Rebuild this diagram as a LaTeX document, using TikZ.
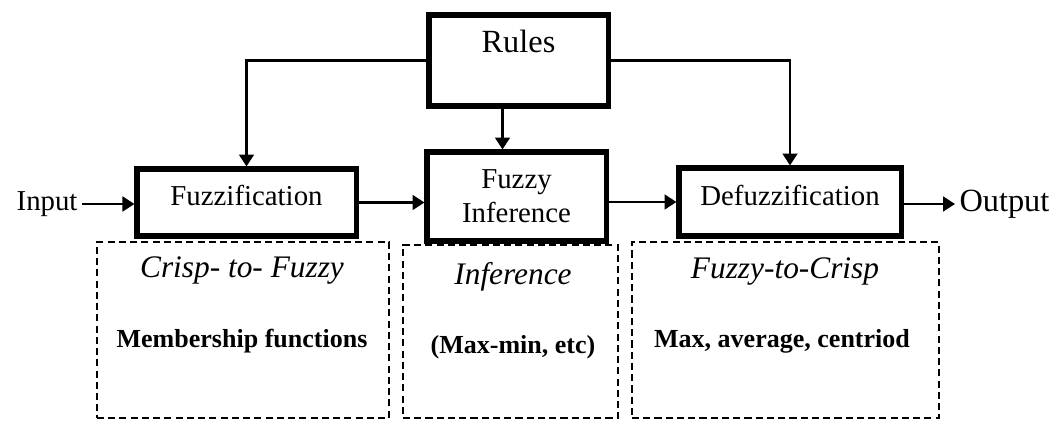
\documentclass[tikz,border=0pt]{standalone}
\usepackage{fontspec}
\setmainfont{Liberation Serif}
\usetikzlibrary{arrows.meta,positioning}

\begin{document}
\begin{tikzpicture}[x=0.025cm, y=0.025cm,
  blk/.style={draw, line width=3.6pt, inner sep=0pt, align=center,
              font=\fontsize{20.5}{24}\selectfont},
  stage/.style={draw, dash pattern=on 5pt off 3pt, line width=1.6pt, inner sep=0pt},
  arrow/.style={-{Triangle[length=8.5pt,width=10.5pt]}, line width=1.8pt},
  lbl/.style={font=\fontsize{20.5}{24}\selectfont, inner sep=3pt},
  hint/.style={font=\fontsize{22.3}{26}\selectfont\itshape},
  method/.style={font=\fontsize{18.5}{22}\selectfont\bfseries}
]
\useasboundingbox (0,0) rectangle (1062,420);

% main blocks
\node[blk, minimum width=4.475cm, minimum height=2.275cm,
      font=\fontsize{23}{26}\selectfont,
      text height=15pt, text depth=26.5pt] (rules) at (518.5,359.5) {Rules};
\node[blk, minimum width=5.475cm, minimum height=1.675cm,
      text height=14pt, text depth=9.5pt] (fuzz) at (246.5,217.5) {Fuzzification};
\node[blk, minimum width=4.475cm, minimum height=2.225cm] (infer) at (516.5,223.5)
  {Fuzzy\\Inference};
\node[blk, minimum width=5.55cm, minimum height=1.7cm,
      text height=14pt, text depth=9.5pt] (defuzz) at (790,218) {Defuzzification};

% dashed stage boxes
\node[stage, minimum width=7.3cm, minimum height=4.4cm] (crisp) at (243,90) {};
\node[stage, minimum width=5.375cm, minimum height=4.325cm] (infstage) at (510.5,88.5) {};
\node[stage, minimum width=7.675cm, minimum height=4.4cm] (defstage) at (785.5,90) {};

\node[hint] (crisptxt) at (242,149) {Crisp- to- Fuzzy};
\node[method] (member) at (242,79) {Membership functions};
\node[hint] (inftxt) at (513,143) {Inference};
\node[method] (maxmin) at (513,73) {(Max-min, etc)};
\node[hint] (deftxt) at (785,148) {Fuzzy-to-Crisp};
\node[method] (centroid) at (782,79) {Max, average, centriod};

% in / out
\node[lbl, anchor=east] (input) at (82,216) {Input};
\node[lbl, anchor=west, font=\fontsize{23}{26}\selectfont] (output) at (955,216) {Output};

% signal flow
\draw[arrow] (input.east) -- (input.east -| fuzz.west);
\draw[arrow] (fuzz.east) -- (fuzz.east -| infer.west);
\draw[arrow] (infer.east |- defuzz) -- (defuzz.west);
\draw[arrow] (defuzz.east |- output) -- (output.west);

% rule base feeds all three blocks
\draw[arrow] (rules.west) -| (fuzz.north);
\draw[arrow] ([xshift=-0.4cm]rules.south) -- ([xshift=-0.4cm]rules.south |- infer.north);
\draw[arrow] (rules.east) -| (defuzz.north);
\end{tikzpicture}
\end{document}
